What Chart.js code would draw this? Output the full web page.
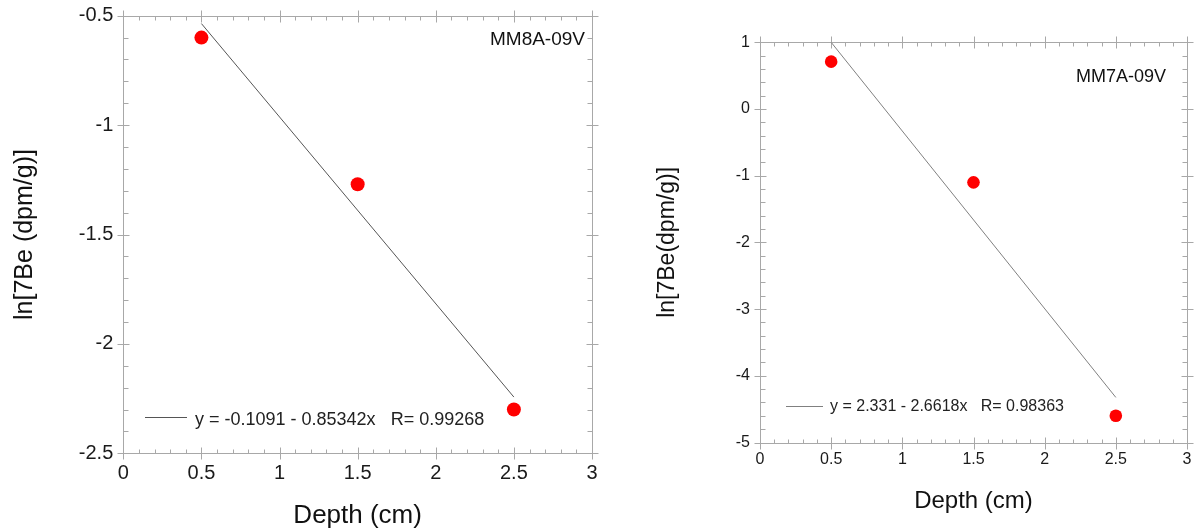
<!DOCTYPE html>
<html><head><meta charset="utf-8">
<script src="https://cdn.jsdelivr.net/npm/chart.js@4.4.1/dist/chart.umd.min.js"></script>
<style>
html,body{margin:0;padding:0;background:#fff;width:1195px;height:531px;overflow:hidden}
canvas{position:absolute;top:0}
</style></head><body>
<canvas id="c1" width="620" height="531" style="left:0"></canvas>
<canvas id="c2" width="575" height="531" style="left:620px"></canvas>
<script>
// ---- data ----
const depth = [0.5, 1.5, 2.5];
const lnBeMM8A = [-0.60, -1.27, -2.30];
const lnBeMM7A = [0.71, -1.10, -4.60];
const fitDepth = [0.5, 2.5];
const fitMM8A = [-0.536, -2.243];
const fitMM7A = [1.000, -4.324];
const xTicks = [0, 0.5, 1, 1.5, 2, 2.5, 3];
const yTicksMM8A = [-2.5, -2, -1.5, -1, -0.5];
const yTicksMM7A = [-5, -4, -3, -2, -1, 0, 1];
const labelMM8A = 'MM8A-09V';
const labelMM7A = 'MM7A-09V';
const fitTextMM8A = 'y = -0.1091 - 0.85342x   R= 0.99268';
const fitTextMM7A = 'y = 2.331 - 2.6618x   R= 0.98363';
const xTitle = 'Depth (cm)';
const yTitleMM8A = 'ln[7Be (dpm/g)]';
const yTitleMM7A = 'ln[7Be(dpm/g)]';

const FONT = '"Liberation Sans", Arial, sans-serif';

function framePlugin(o){
  return {
    id:'frame',
    beforeDatasetsDraw(chart){
      const ctx = chart.ctx, a = chart.chartArea, xs = chart.scales.x, ys = chart.scales.y;
      const L = Math.round(a.left)+0.5, R = Math.round(a.right)+0.5, T = Math.round(a.top)+0.5, B = Math.round(a.bottom)+0.5;
      ctx.save();
      ctx.strokeStyle = '#a8a8a8'; ctx.lineWidth = 1;
      ctx.beginPath();
      ctx.rect(L, T, R-L, B-T);
      const nx = Math.round((xs.max-xs.min)/o.xMinor);
      for(let i=0;i<=nx;i++){
        const v = xs.min + i*o.xMinor;
        const p = Math.round(xs.getPixelForValue(v))+0.5;
        const major = Math.abs(v/o.xMajor - Math.round(v/o.xMajor))<1e-6;
        if(major){ ctx.moveTo(p,B-6); ctx.lineTo(p,B+6); ctx.moveTo(p,T-6); ctx.lineTo(p,T+6); }
        else { ctx.moveTo(p,B-4); ctx.lineTo(p,B); ctx.moveTo(p,T); ctx.lineTo(p,T+4); }
      }
      const ny = Math.round((ys.max-ys.min)/o.yMinor);
      for(let i=0;i<=ny;i++){
        const v = ys.min + i*o.yMinor;
        const p = Math.round(ys.getPixelForValue(v))+0.5;
        const major = Math.abs(v/o.yMajor - Math.round(v/o.yMajor))<1e-6;
        if(major){ ctx.moveTo(L-6,p); ctx.lineTo(L+6,p); ctx.moveTo(R-6,p); ctx.lineTo(R+6,p); }
        else { ctx.moveTo(L,p); ctx.lineTo(L+5,p); ctx.moveTo(R-5,p); ctx.lineTo(R,p); }
      }
      ctx.stroke();
      ctx.restore();
    },
    afterDraw(chart){
      const ctx = chart.ctx;
      ctx.save();
      ctx.fillStyle = '#111';
      ctx.font = o.labelSize + 'px ' + FONT;
      ctx.textAlign = 'right'; ctx.textBaseline = 'middle';
      ctx.fillText(o.label, o.labelX, o.labelY);
      ctx.strokeStyle = o.lineColor; ctx.lineWidth = 1;
      ctx.beginPath();
      ctx.moveTo(o.legX0, o.legY+0.5); ctx.lineTo(o.legX1, o.legY+0.5);
      ctx.stroke();
      ctx.fillStyle = '#222';
      ctx.font = o.legSize + 'px ' + FONT;
      ctx.textAlign = 'left';
      ctx.fillText(o.fitText, o.legTextX, o.legTextY);
      ctx.restore();
    }
  };
}

function makeChart(id, o){
  return new Chart(document.getElementById(id), {
    type:'scatter',
    data:{datasets:[
      {type:'line', data: fitDepth.map((x,i)=>({x:x, y:o.fitY[i]})), borderColor:o.lineColor, borderWidth:1,
       pointRadius:0, fill:false, tension:0, order:2},
      {data: depth.map((x,i)=>({x:x, y:o.ys[i]})), backgroundColor:'#ff0000', borderColor:'#ff0000', borderWidth:0,
       pointRadius:o.r, pointHoverRadius:o.r, order:1}
    ]},
    options:{
      responsive:false, animation:false, devicePixelRatio:1, events:[],
      layout:{padding:{left:0, top:o.top, right:o.padRight, bottom:0}},
      plugins:{legend:{display:false}, tooltip:{enabled:false}},
      scales:{
        x:{type:'linear', min:0, max:3,
          afterBuildTicks: s=>{ s.ticks = xTicks.map(v=>({value:v})); },
          afterFit: s=>{ s.height = o.xH; s.paddingLeft = 0; s.paddingRight = 0; },
          grid:{display:false, drawTicks:false}, border:{display:false},
          ticks:{padding:o.xPad, color:'#1a1a1a', font:{family:FONT, size:o.tickSize}, maxRotation:0, autoSkip:false,
            callback: v=>String(v)},
          title:{display:true, text:xTitle, color:'#111', font:{family:FONT, size:o.xTitleSize}, padding:{top:0,bottom:o.xTitlePad}}
        },
        y:{type:'linear', min:o.yTicks[0], max:o.yTicks[o.yTicks.length-1],
          afterBuildTicks: s=>{ s.ticks = o.yTicks.map(v=>({value:v})); },
          afterFit: s=>{ s.width = o.yW; s.paddingTop = 0; s.paddingBottom = 0; },
          grid:{display:false, drawTicks:false}, border:{display:false},
          ticks:{padding:10, color:'#1a1a1a', font:{family:FONT, size:o.tickSize}, autoSkip:false,
            callback: v=>String(v)},
          title:{display:true, text:o.yTitle, color:'#111', font:{family:FONT, size:o.yTitleSize}, padding:{top:o.yTitlePad,bottom:0}}
        }
      }
    },
    plugins:[framePlugin(o)]
  });
}

makeChart('c1', {
  ys: lnBeMM8A, fitY: fitMM8A, yTicks: yTicksMM8A, yTitle: yTitleMM8A,
  top:15.7, padRight:28, xH:77.7, yW:123.3, xPad:8, tickSize:20,
  xTitleSize:26, xTitlePad:0, yTitleSize:25, yTitlePad:10,
  r:7, lineColor:'#555555',
  xMinor:0.1, xMajor:0.5, yMinor:0.1, yMajor:0.5,
  label: labelMM8A, labelSize:19, labelX:585, labelY:40,
  fitText: fitTextMM8A, legSize:18, legX0:145, legX1:187, legY:417, legTextX:195, legTextY:420
});

makeChart('c2', {
  ys: lnBeMM7A, fitY: fitMM7A, yTicks: yTicksMM7A, yTitle: yTitleMM7A,
  top:42.3, padRight:8, xH:88.5, yW:140, xPad:7, tickSize:16,
  xTitleSize:24, xTitlePad:15.6, yTitleSize:23, yTitlePad:33.7,
  r:6.3, lineColor:'#808080',
  xMinor:0.1, xMajor:0.5, yMinor:0.2, yMajor:1,
  label: labelMM7A, labelSize:18, labelX:546, labelY:77,
  fitText: fitTextMM7A, legSize:16, legX0:166, legX1:203, legY:406, legTextX:210, legTextY:407
});
</script>
</body></html>
